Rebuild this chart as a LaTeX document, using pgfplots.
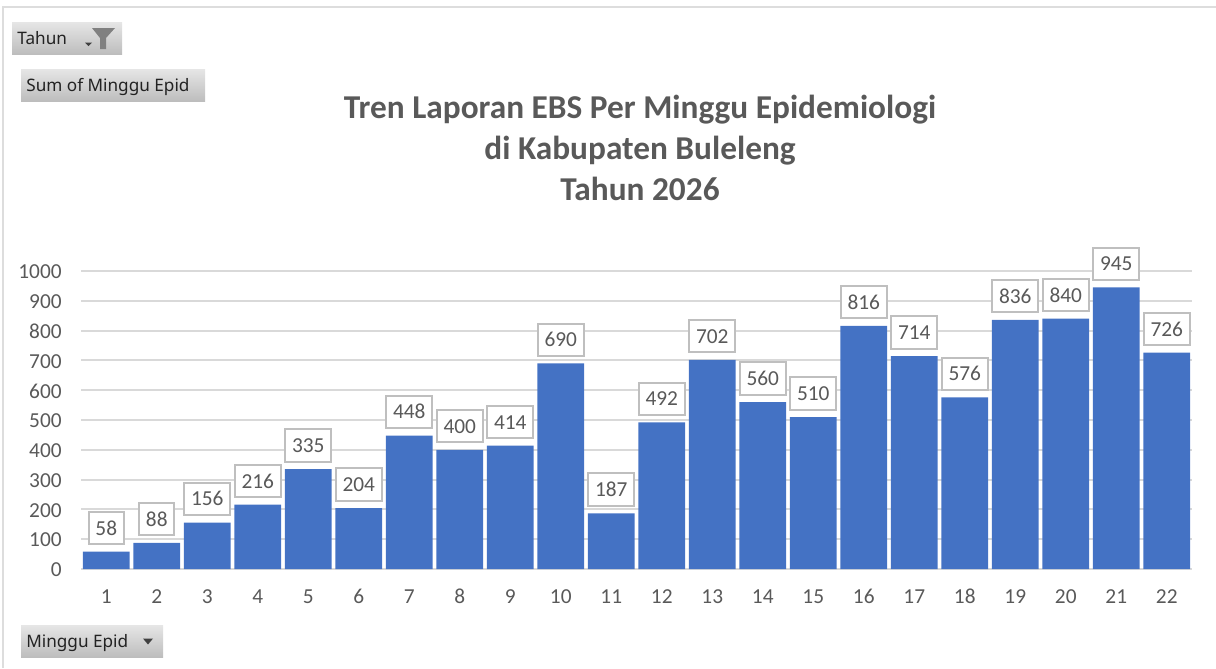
\documentclass[border=0pt]{standalone}
\usepackage{fontspec}
\setmainfont{Carlito}
\newfontfamily\uifont{Noto Sans}
\usepackage{pgfplots}
\usepackage{pgfplotstable}
\pgfplotsset{compat=1.18}
\definecolor{barc}{HTML}{4472C4}
\definecolor{txt}{HTML}{595959}
\definecolor{gridc}{HTML}{D9D9D9}
\definecolor{boxc}{HTML}{BFBFBF}
\definecolor{framec}{HTML}{DDDDDD}
\definecolor{btntop}{HTML}{E6E6E6}
\definecolor{btnbot}{HTML}{BDBDBD}
\definecolor{btntxt}{HTML}{222222}

\pgfplotstableread{
week value
1 58
2 88
3 156
4 216
5 335
6 204
7 448
8 400
9 414
10 690
11 187
12 492
13 702
14 560
15 510
16 816
17 714
18 576
19 836
20 840
21 945
22 726
}\ebsdata

\begin{document}
\begin{tikzpicture}[x=0.6pt,y=-0.6pt]
\useasboundingbox (0,0) rectangle (1216,668);
% pivot chart frame
\draw[framec,line width=1.4pt] (3,668) -- (3,7) -- (1216,7);

% pivot field buttons
\path[top color=btntop,bottom color=btnbot] (12,22) rectangle (122,54);
\node[anchor=base west,inner sep=0pt,text=btntxt,font=\uifont\fontsize{10.3}{12}\selectfont] at (17,44) {Tahun};
\fill[black!75] (85,42.5) -- (92,42.5) -- (88.5,46) -- cycle;
\fill[gray] (92,28) -- (115,28) -- (106,38) -- (106,49) -- (100,49) -- (100,38) -- cycle;

\path[top color=btntop,bottom color=btnbot] (21,69) rectangle (205,101);
\node[anchor=base west,inner sep=0pt,text=btntxt,font=\uifont\fontsize{10.3}{12}\selectfont] at (26,91) {Sum of Minggu Epid};

\path[top color=btntop,bottom color=btnbot] (21,625) rectangle (163,657);
\node[anchor=base west,inner sep=0pt,text=btntxt,font=\uifont\fontsize{10.3}{12}\selectfont] at (26,647) {Minggu Epid};
\fill[black!75] (143,638.5) -- (153,638.5) -- (148,644.5) -- cycle;

% title
\node[text=txt,font=\bfseries\fontsize{20}{24.6}\selectfont,align=center,inner sep=0pt] at (640,148)
  {Tren Laporan EBS Per Minggu Epidemiologi\\di Kabupaten Buleleng\\Tahun 2026};

\begin{axis}[
  at={(48.6pt,-341.4pt)}, anchor=south west,
  scale only axis,
  width=666.6pt, height=178.8pt,
  xmin=0.5, xmax=22.5, ymin=0, ymax=1000,
  ybar, bar width=28pt,
  clip=false,
  axis x line=bottom, axis y line=left,
  x axis line style={draw=gridc,line width=1.2pt,-},
  y axis line style={draw=none},
  major tick length=0pt,
  xtick={1,2,...,22}, ytick={0,100,...,1000},
  ymajorgrids,
  grid style={gridc,line width=1.2pt},
  /pgf/number format/assume math mode=true,
  /pgf/number format/1000 sep={},
  tick label style={text=txt,font=\fontsize{12.8}{15}\selectfont,inner sep=0pt},
  yticklabel style={xshift=-11.4pt,yshift=-0.5pt},
  xticklabel style={yshift=-12.2pt,text height=8.5pt,text depth=0pt},
  nodes near coords,
  every node near coord/.append style={
    anchor=south, yshift=3.9pt,
    draw=boxc, line width=1.2pt, fill=white, text=txt,
    font=\fontsize{12.8}{15}\selectfont,
    text height=8.5pt, text depth=0pt,
    inner xsep=4pt, inner ysep=0pt, minimum height=19.4pt,
  },
]
\addplot[fill=barc,draw=none] table[x=week,y=value] {\ebsdata};
\end{axis}
\end{tikzpicture}
\end{document}
